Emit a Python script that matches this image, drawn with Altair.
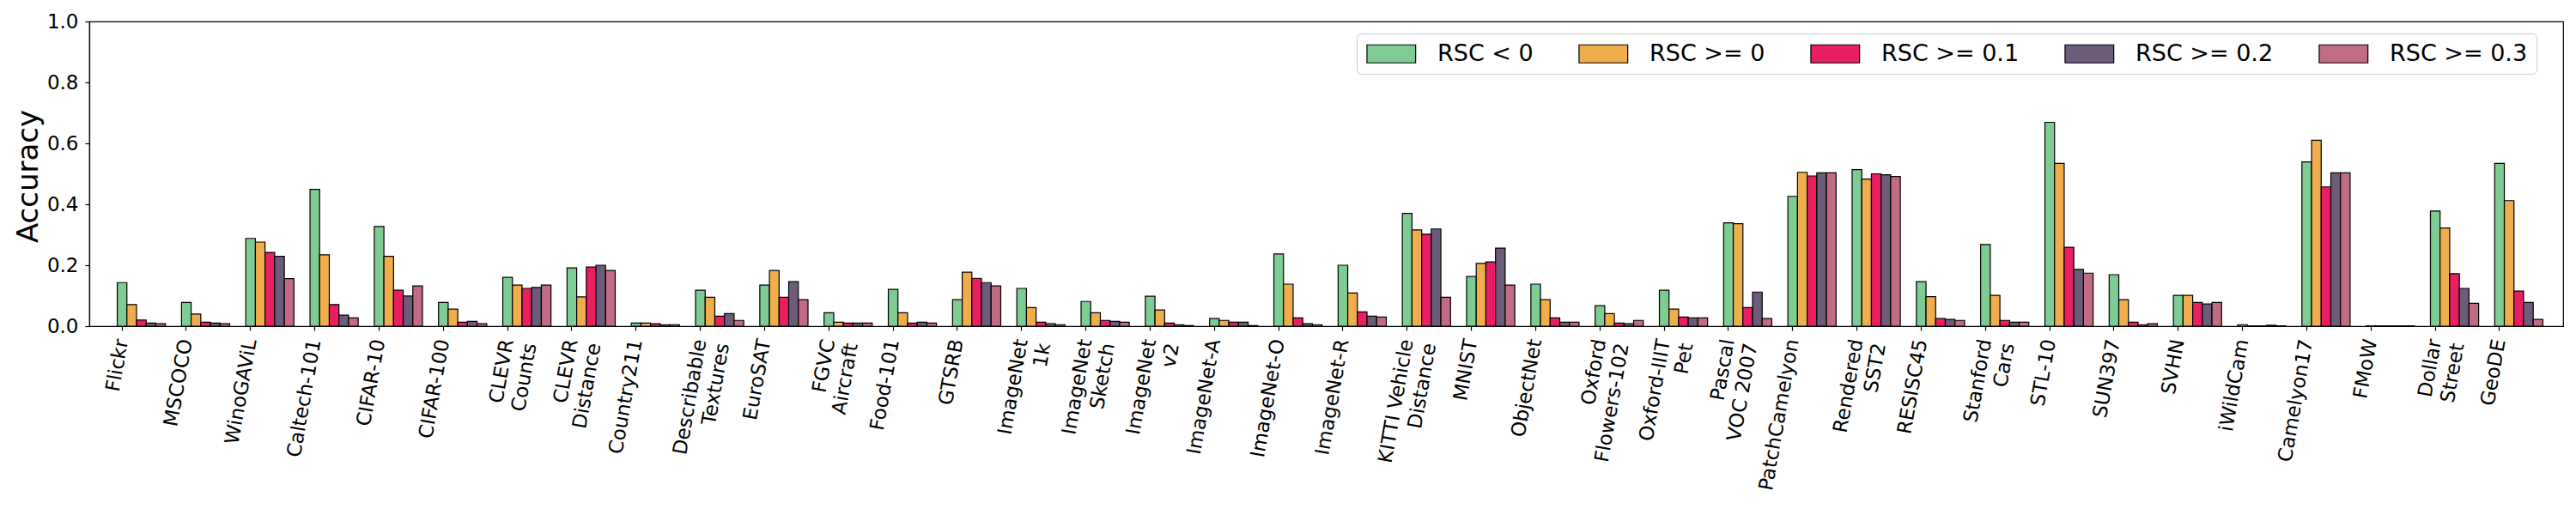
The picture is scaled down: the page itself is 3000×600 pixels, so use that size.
import altair as alt
import pandas as pd

datasets = [
    "Flickr", "MSCOCO", "WinoGAViL", "Caltech-101", "CIFAR-10", "CIFAR-100",
    "CLEVR\nCounts", "CLEVR\nDistance", "Country211", "Describable\nTextures",
    "EuroSAT", "FGVC\nAircraft", "Food-101", "GTSRB", "ImageNet\n1k",
    "ImageNet\nSketch", "ImageNet\nv2", "ImageNet-A", "ImageNet-O", "ImageNet-R",
    "KITTI Vehicle\nDistance", "MNIST", "ObjectNet", "Oxford\nFlowers-102",
    "Oxford-IIIT\nPet", "Pascal\nVOC 2007", "PatchCamelyon", "Rendered\nSST2",
    "RESISC45", "Stanford\nCars", "STL-10", "SUN397", "SVHN", "iWildCam",
    "Camelyon17", "FMoW", "Dollar\nStreet", "GeoDE",
]

series = ["RSC < 0", "RSC >= 0", "RSC >= 0.1", "RSC >= 0.2", "RSC >= 0.3"]
colors = ["#7ecb93", "#f0ad4e", "#e91e63", "#6c5b7b", "#c06c84"]

acc_lt0 = [0.143, 0.078, 0.288, 0.449, 0.327, 0.078, 0.160, 0.191, 0.010, 0.118,
           0.135, 0.044, 0.121, 0.087, 0.124, 0.081, 0.098, 0.025, 0.237, 0.200,
           0.370, 0.163, 0.138, 0.067, 0.118, 0.339, 0.426, 0.514, 0.146, 0.268,
           0.669, 0.169, 0.101, 0.005, 0.539, 0.001, 0.378, 0.534]
acc_ge0 = [0.071, 0.040, 0.276, 0.234, 0.229, 0.056, 0.135, 0.096, 0.010, 0.095,
           0.183, 0.013, 0.044, 0.177, 0.061, 0.044, 0.053, 0.019, 0.138, 0.109,
           0.316, 0.206, 0.087, 0.041, 0.056, 0.336, 0.505, 0.483, 0.097, 0.101,
           0.534, 0.087, 0.101, 0.001, 0.610, 0.001, 0.322, 0.412]
acc_ge01 = [0.020, 0.013, 0.242, 0.071, 0.118, 0.013, 0.124, 0.194, 0.008, 0.033,
            0.095, 0.010, 0.010, 0.157, 0.013, 0.019, 0.010, 0.013, 0.027, 0.047,
            0.302, 0.211, 0.027, 0.010, 0.030, 0.061, 0.493, 0.500, 0.025, 0.019,
            0.259, 0.013, 0.078, 0.001, 0.457, 0.001, 0.172, 0.115]
acc_ge02 = [0.010, 0.010, 0.229, 0.036, 0.099, 0.016, 0.127, 0.200, 0.005, 0.041,
            0.146, 0.010, 0.013, 0.143, 0.008, 0.016, 0.005, 0.013, 0.008, 0.033,
            0.319, 0.256, 0.013, 0.008, 0.027, 0.112, 0.503, 0.497, 0.022, 0.013,
            0.186, 0.005, 0.073, 0.003, 0.503, 0.001, 0.124, 0.078]
acc_ge03 = [0.008, 0.008, 0.156, 0.027, 0.132, 0.008, 0.135, 0.183, 0.005, 0.019,
            0.087, 0.010, 0.010, 0.132, 0.005, 0.013, 0.002, 0.002, 0.005, 0.030,
            0.095, 0.135, 0.013, 0.019, 0.027, 0.025, 0.503, 0.491, 0.019, 0.013,
            0.174, 0.008, 0.078, 0.001, 0.503, 0.001, 0.075, 0.022]

rows = []
for s, vals in zip(series, [acc_lt0, acc_ge0, acc_ge01, acc_ge02, acc_ge03]):
    for d, v in zip(datasets, vals):
        rows.append({"dataset": d, "series": s, "accuracy": v})
df = pd.DataFrame(rows)

FONT = "DejaVu Sans"
W = 2881
STEP = W / 38.5

chart = alt.Chart(df).mark_bar(stroke="black", strokeWidth=1.2).encode(
    x=alt.X(
        "dataset:N", sort=datasets, title=None,
        scale=alt.Scale(paddingInner=0, paddingOuter=0.25, align=0.02),
        axis=alt.Axis(
            labelAngle=-80, labelAlign="right", labelBaseline="middle",
            labelExpr="split(datum.label, '\\n')",
            labelFontSize=23, labelFont=FONT, labelColor="black",
            labelLineHeight=27, labelLimit=500, labelOverlap=False,
            labelPadding=10, tickColor="black", tickSize=5, tickWidth=1.2,
            domainColor="black", domainWidth=1.2,
        ),
    ),
    xOffset=alt.XOffset(
        "series:N", sort=series,
        scale=alt.Scale(paddingInner=0, paddingOuter=0,
                        range=[0.425 * STEP, 1.175 * STEP]),
    ),
    y=alt.Y(
        "accuracy:Q",
        scale=alt.Scale(domain=[0, 1], nice=False, zero=True),
        axis=alt.Axis(
            values=[0, 0.2, 0.4, 0.6, 0.8, 1.0], format=".1f", grid=False,
            title="Accuracy", titleFont=FONT, titleFontSize=34,
            titleFontWeight="normal", titleColor="black",
            titleX=-61, titleY=180, titleAngle=270, titleAlign="center",
            titleBaseline="alphabetic",
            labelFontSize=23, labelFont=FONT, labelColor="black",
            labelPadding=8, tickColor="black", tickSize=5, tickWidth=1.2,
            domainColor="black", domainWidth=1.2,
        ),
    ),
    color=alt.Color(
        "series:N", sort=series,
        scale=alt.Scale(domain=series, range=colors),
        legend=alt.Legend(
            title=None, orient="none", legendX=1476, legendY=14,
            direction="horizontal", columns=5,
            symbolType="M-1.1,-1H4.3V1H-1.1Z", symbolSize=441,
            symbolStrokeColor="black", symbolStrokeWidth=1.2,
            labelFontSize=27, labelFont=FONT, labelColor="black",
            labelOffset=57, columnPadding=50, padding=10, labelLimit=500,
            strokeColor="#cccccc", fillColor="rgba(255,255,255,0.8)",
            cornerRadius=5,
        ),
    ),
).properties(
    width=W, height=355, autosize="none",
    padding={"left": 96, "top": 17, "right": 7, "bottom": 212},
).configure_view(stroke="black", strokeWidth=1.2)

chart.save("out.html", embed_options={"renderer": "svg", "actions": False})
